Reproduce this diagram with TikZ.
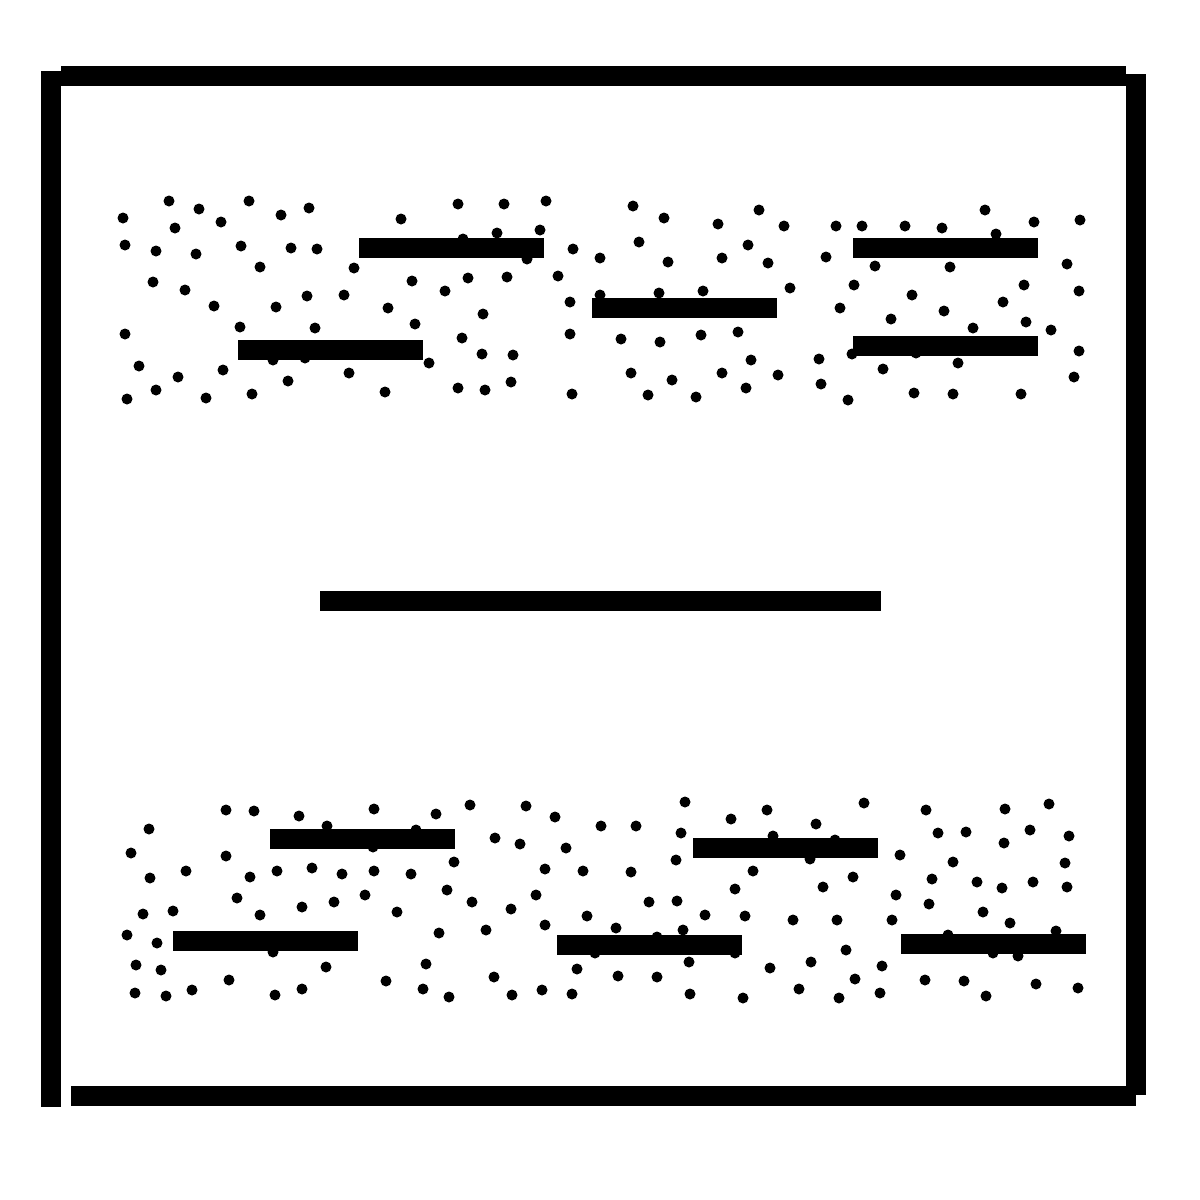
\documentclass[tikz,border=0pt]{standalone}
\usepackage{tikz}
\tikzset{
  frameline/.style={line width=20pt,draw=black,line cap=butt},
  barline/.style={line width=20pt,draw=black,line cap=butt},
  grain/.style={fill=black}
}

\begin{document}
\begin{tikzpicture}[x=1pt,y=-1pt]
  \useasboundingbox (0,0) rectangle (1200,1200);
  % frame, drawn as four loose strokes
  \draw[frameline] (51,71) -- (51,1107);
  \draw[frameline] (61,75.5) -- (1126,75.5);
  \draw[frameline] (1136,74) -- (1136,1095);
  \draw[frameline] (71,1096) -- (1136,1096);
  % upper band of grains
  \foreach \x/\y in {169/201,199/209,249/201,281/215,309/208,123/218,175/228,221/222,401/219,458/204,
       504/204,546/201,497/233,540/230,463/239,125/245,156/251,196/254,241/246,291/248,317/249,260/267,
       354/268,527/259,573/249,153/282,185/290,412/281,445/291,468/278,507/277,558/276,214/306,276/307,
       307/296,344/295,388/308,483/314,570/302,240/327,315/328,415/324,125/334,462/338,570/334,482/354,
       513/355,273/360,305/358,429/363,139/366,223/370,178/377,349/373,288/381,511/382,156/390,458/388,
       485/390,127/399,206/398,252/394,385/392,572/394,
       633/206,664/218,718/224,759/210,784/226,836/226,862/226,905/226,942/228,985/210,996/234,1034/222,
       1080/220,639/242,748/245,600/258,668/262,722/258,768/263,826/257,875/266,950/267,1067/264,790/288,
       854/285,912/295,1024/285,1079/291,600/295,659/293,703/291,840/308,891/319,944/311,1003/302,1026/322,
       973/328,1051/330,621/339,660/342,701/335,738/332,1079/351,751/360,819/359,852/354,916/353,958/363,
       883/369,631/373,672/380,722/373,778/375,821/384,1074/377,648/395,696/397,746/388,848/400,914/393,
       953/394,1021/394}{
    \fill[grain] (\x,\y) circle (5.5pt);
  }
  % lower band of grains
  \foreach \x/\y in {226/810,254/811,299/816,374/809,436/814,470/805,526/806,555/817,149/829,327/826,
       416/830,131/853,226/856,495/838,520/844,566/848,373/847,150/878,186/871,250/877,277/871,312/868,
       342/874,374/871,411/874,454/862,545/869,583/871,237/898,302/907,334/902,365/895,447/890,472/902,
       536/895,143/914,173/911,260/915,397/912,511/909,587/916,127/935,157/943,439/933,486/930,545/925,
       273/952,136/965,161/970,326/967,426/964,577/969,229/980,386/981,494/977,135/993,166/996,192/990,
       275/995,302/989,423/989,449/997,512/995,542/990,572/994,
       685/802,767/810,864/803,926/810,1005/809,1049/804,601/826,636/826,731/819,816/824,681/833,773/836,
       835/840,938/833,966/832,1030/830,1069/836,1004/843,676/860,810/859,900/855,953/862,1065/863,631/872,
       753/871,853/877,932/879,977/882,1002/888,1033/882,1067/887,735/889,823/887,896/895,649/902,677/901,
       929/904,705/915,745/916,793/920,837/920,892/920,983/912,1010/923,616/928,683/930,657/937,1056/931,
       948/935,846/950,735/953,993/953,1018/956,595/953,689/962,811/962,882/966,770/968,618/976,657/977,
       855/979,925/980,964/981,1036/984,1078/988,690/994,743/998,799/989,839/998,880/993,986/996}{
    \fill[grain] (\x,\y) circle (5.5pt);
  }
  % bars in the bands and the middle one
  \foreach \xa/\xb/\y in {359/544/248,238/423/350,592/777/308,853/1038/248,853/1038/346,
       320/881/600.5,
       270/455/839,173/358/941,693/878/848,557/742/945,901/1086/944}{
    \draw[barline] (\xa,\y) -- (\xb,\y);
  }
\end{tikzpicture}
\end{document}
